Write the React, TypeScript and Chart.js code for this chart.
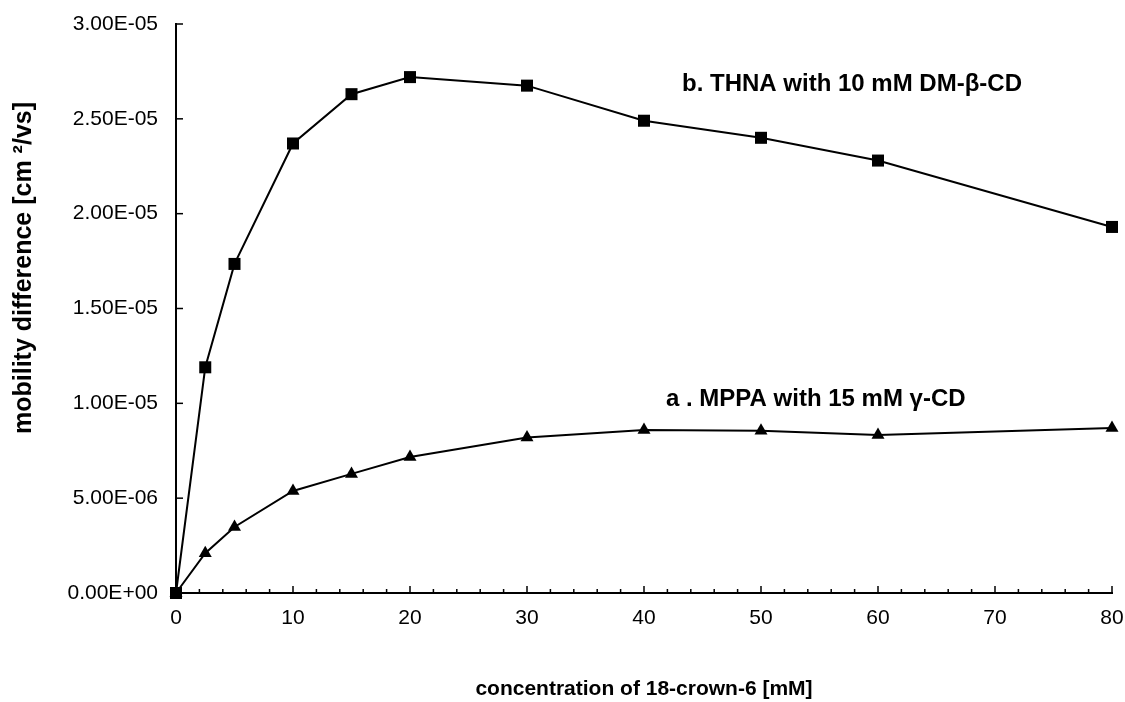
import React, { useEffect, useRef } from "react";
import { Chart, registerables } from "chart.js";

Chart.register(...registerables);

const concentrations = [0, 2.5, 5, 10, 15, 20, 30, 40, 50, 60, 80];
const thnaValues = [0, 1.19e-5, 1.735e-5, 2.37e-5, 2.63e-5, 2.72e-5, 2.675e-5, 2.49e-5, 2.40e-5, 2.28e-5, 1.93e-5];
const mppaValues = [0, 2.1e-6, 3.48e-6, 5.38e-6, 6.28e-6, 7.17e-6, 8.2e-6, 8.6e-6, 8.55e-6, 8.33e-6, 8.7e-6];
const thnaLabel = "b. THNA with 10 mM DM-\u03B2-CD";
const mppaLabel = "a . MPPA with 15 mM \u03B3-CD";
const xTitle = "concentration of 18-crown-6 [mM]";
const yTitle = "mobility difference [cm \u00B2/vs]";

const FONT = "'Liberation Sans', Arial, Helvetica, sans-serif";

function sci(v: number): string {
  if (Math.abs(v) < 1e-12) return "0.00E+00";
  const [m, e] = v.toExponential(2).split("e");
  const n = parseInt(e, 10);
  return m + "E" + (n < 0 ? "-" : "+") + String(Math.abs(n)).padStart(2, "0");
}

const decorPlugin = {
  id: "decor",
  afterDraw(chart: any) {
    const { ctx, scales, chartArea } = chart;
    const xs = scales.x;
    const ys = scales.y;
    ctx.save();
    ctx.strokeStyle = "#000";
    ctx.lineWidth = 1.5;
    // x ticks (inward)
    for (let v = 0; v <= 80; v += 2) {
      const px = xs.getPixelForValue(v);
      const len = v % 10 === 0 ? 7 : 4;
      ctx.beginPath();
      ctx.moveTo(px, chartArea.bottom);
      ctx.lineTo(px, chartArea.bottom - len);
      ctx.stroke();
    }
    // y ticks (inward)
    ys.ticks.forEach((t: any) => {
      const py = ys.getPixelForValue(t.value);
      ctx.beginPath();
      ctx.moveTo(chartArea.left, py);
      ctx.lineTo(chartArea.left + 7, py);
      ctx.stroke();
    });
    ctx.fillStyle = "#000";
    // y axis title
    ctx.save();
    ctx.font = `bold 25px ${FONT}`;
    ctx.textAlign = "center";
    ctx.textBaseline = "middle";
    ctx.translate(24, 268);
    ctx.rotate(-Math.PI / 2);
    ctx.fillText(yTitle, 0, 0);
    ctx.restore();
    // annotations
    ctx.font = `bold 24px ${FONT}`;
    ctx.textBaseline = "middle";
    ctx.textAlign = "left";
    ctx.fillText(thnaLabel, 682, 84);
    ctx.fillText(mppaLabel, 666, 399);
    ctx.restore();
  },
};

export default function App() {
  const ref = useRef<HTMLCanvasElement | null>(null);
  useEffect(() => {
    if (!ref.current) return;
    const chart = new Chart(ref.current, {
      type: "line",
      data: {
        datasets: [
          {
            label: thnaLabel,
            data: concentrations.map((x, i) => ({ x, y: thnaValues[i] })),
            borderColor: "#000",
            backgroundColor: "#000",
            borderWidth: 2,
            pointStyle: "rect",
            pointRadius: 8.5,
            pointBorderWidth: 0,
            pointBackgroundColor: "#000",
            tension: 0,
            clip: false,
          },
          {
            label: mppaLabel,
            data: concentrations.map((x, i) => ({ x, y: mppaValues[i] })),
            borderColor: "#000",
            backgroundColor: "#000",
            borderWidth: 2,
            pointStyle: "triangle",
            pointRadius: 7.5,
            pointBorderWidth: 0,
            pointBackgroundColor: "#000",
            tension: 0,
            clip: false,
          },
        ],
      },
      options: {
        responsive: false,
        animation: false,
        layout: { padding: { top: 24, right: 13, bottom: 0, left: 0 } },
        plugins: {
          legend: { display: false },
          tooltip: { enabled: false },
          title: { display: false },
        },
        scales: {
          x: {
            type: "linear",
            min: 0,
            max: 80,
            afterFit: (s: any) => {
              s.height = 109;
              s.paddingLeft = 0;
              s.paddingRight = 0;
            },
            grid: { display: false, drawTicks: false },
            border: { display: true, color: "#000", width: 2 },
            ticks: {
              stepSize: 2,
              autoSkip: false,
              maxRotation: 0,
              padding: 13,
              color: "#000",
              font: { family: FONT, size: 21 },
              callback: (v: any) => (Number(v) % 10 === 0 ? String(v) : ""),
            },
            title: {
              display: true,
              text: xTitle,
              color: "#000",
              font: { family: FONT, size: 21, weight: "bold" },
              padding: { top: 0, bottom: 0 },
            },
          },
          y: {
            type: "linear",
            min: 0,
            max: 3e-5,
            afterFit: (s: any) => {
              s.width = 176;
              s.paddingTop = 0;
              s.paddingBottom = 0;
            },
            grid: { display: false, drawTicks: false },
            border: { display: true, color: "#000", width: 2 },
            ticks: {
              stepSize: 5e-6,
              padding: 18,
              color: "#000",
              font: { family: FONT, size: 21 },
              callback: (v: any) => sci(Number(v)),
            },
            title: { display: false },
          },
        },
      },
      plugins: [decorPlugin],
    });
    return () => chart.destroy();
  }, []);
  return (
    <div style={{ position: "fixed", left: 0, top: 0, width: 1125, height: 702, background: "#fff" }}>
      <canvas ref={ref} width={1125} height={702} style={{ display: "block" }} />
    </div>
  );
}
